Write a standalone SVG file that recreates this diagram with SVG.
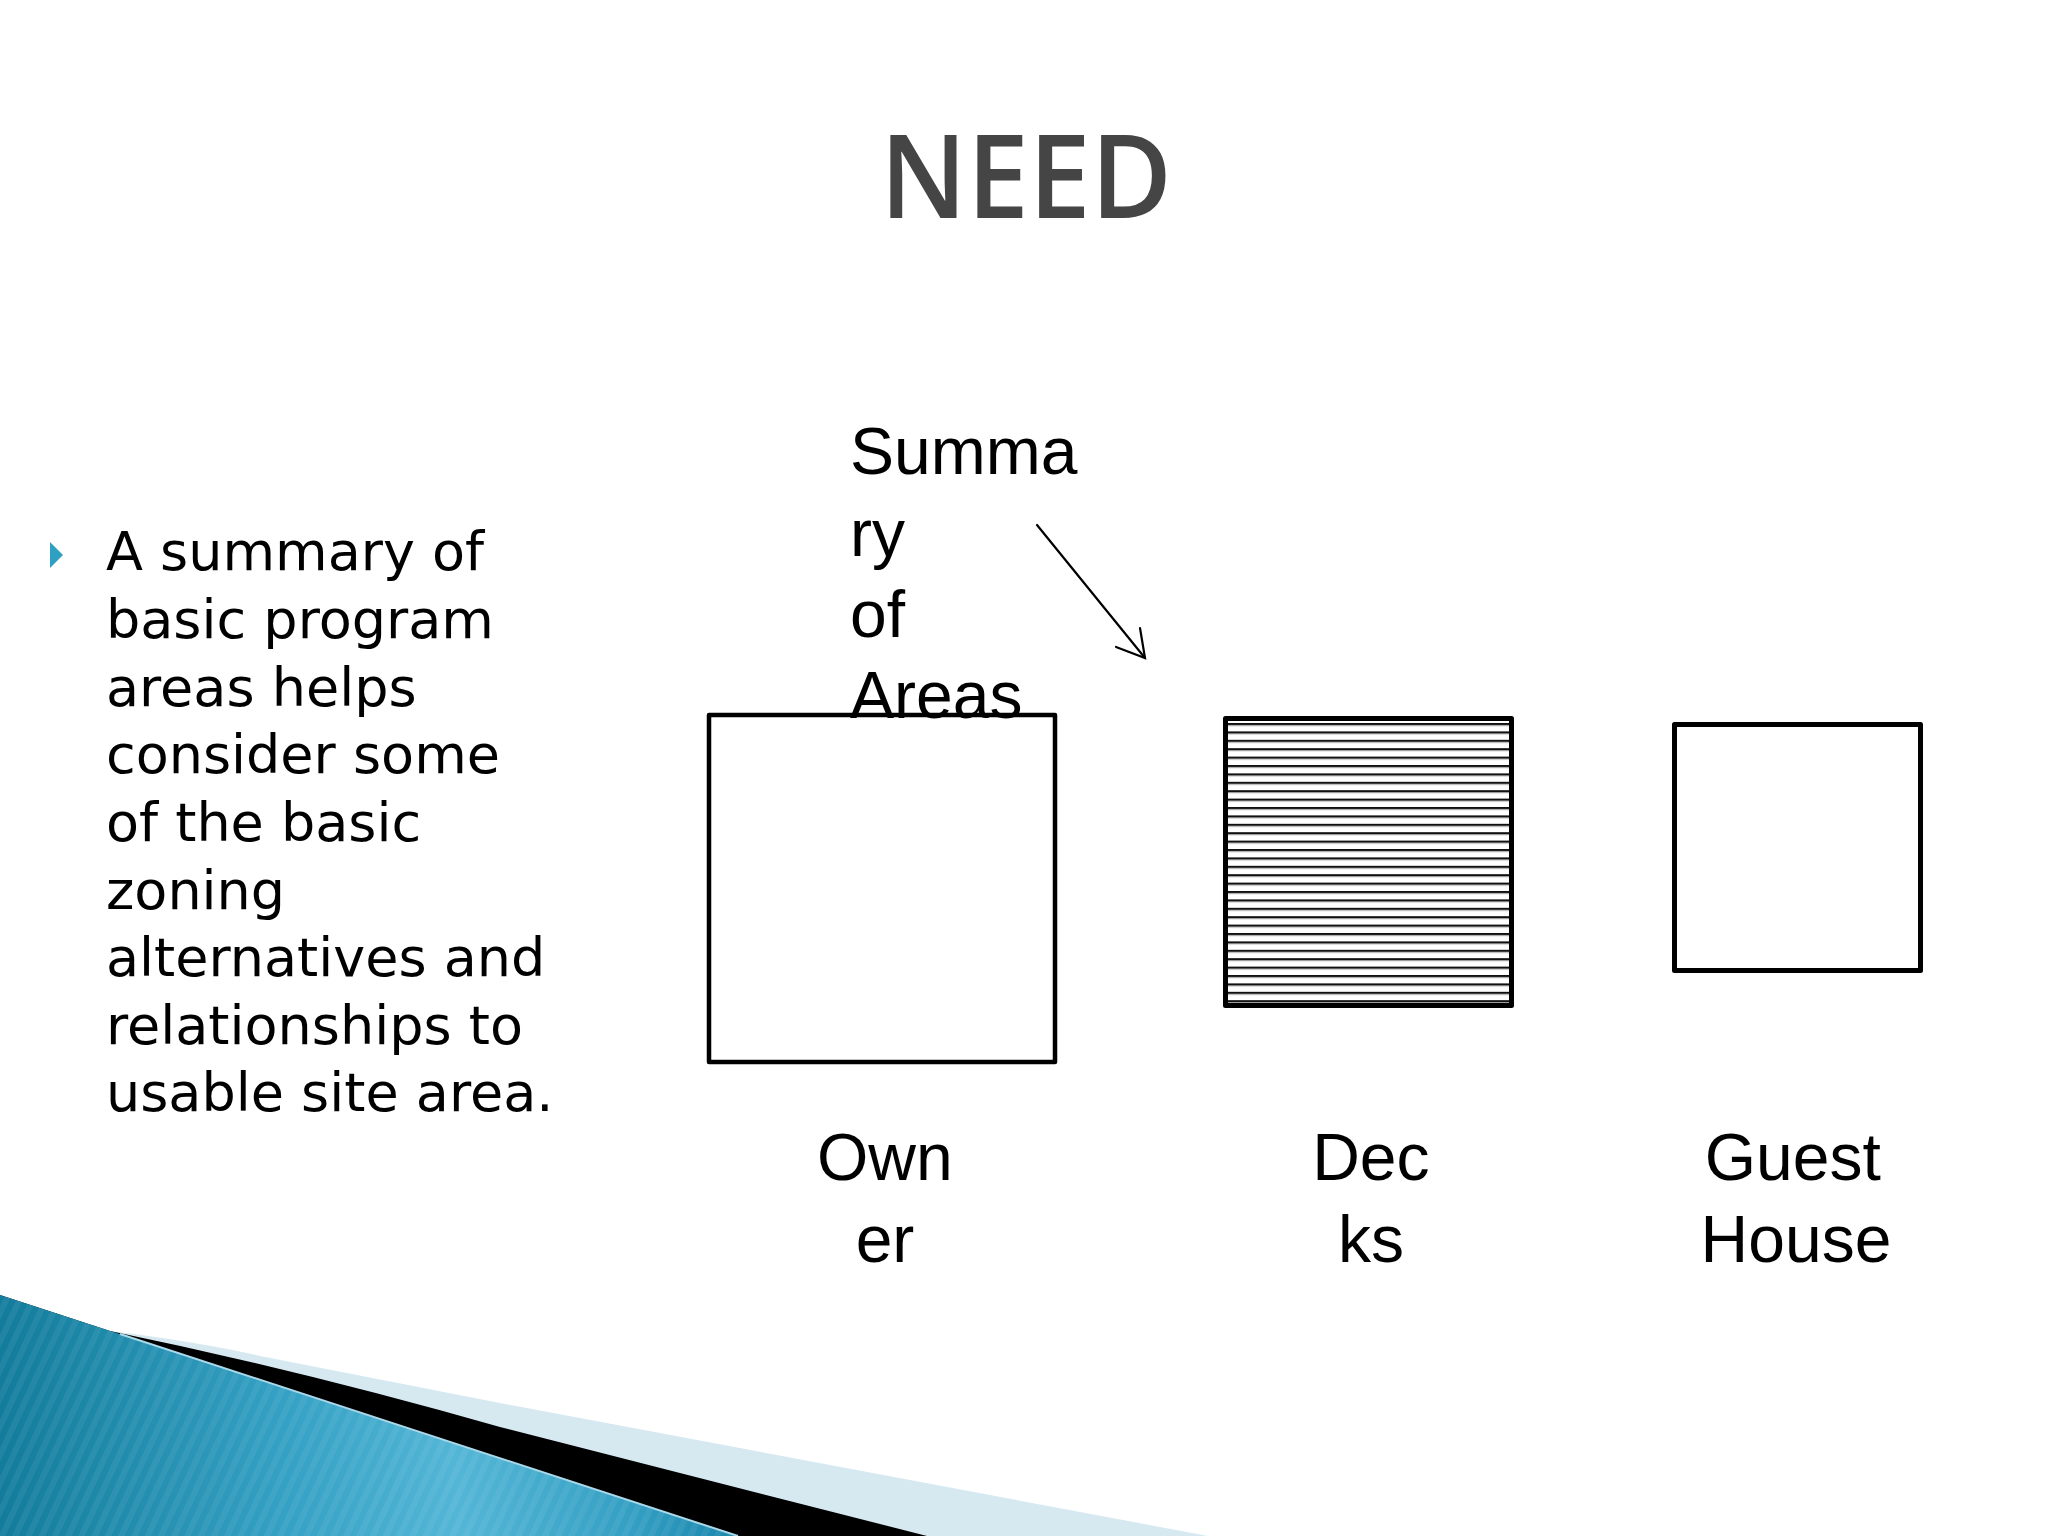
<svg xmlns="http://www.w3.org/2000/svg" width="2048" height="1536" viewBox="0 0 2048 1536">
  <style>
    .title { font-family: "Open Sans", "Liberation Sans", sans-serif; font-weight: 600; font-size: 116px; fill: #454545; }
    .body { font-family: "DejaVu Sans", "Liberation Sans", sans-serif; font-size: 54px; fill: #000; }
    .hand { font-family: "Liberation Sans", "DejaVu Sans", sans-serif; font-size: 66px; fill: #000; }
    .box { fill: #fff; stroke: #000; stroke-linejoin: round; }
    .conn { stroke: #000; stroke-width: 2.2; fill: none; stroke-linecap: round; }
  </style>
  <defs>
    <linearGradient id="blueGrad" x1="0" y1="0" x2="1" y2="0">
      <stop offset="0" stop-color="#137C9C"/>
      <stop offset="0.4" stop-color="#36A2C5"/>
      <stop offset="0.62" stop-color="#54B6D6"/>
      <stop offset="0.85" stop-color="#35A0C4"/>
      <stop offset="1" stop-color="#1A86AC"/>
    </linearGradient>
    <pattern id="stripes" patternUnits="userSpaceOnUse" width="12" height="12" patternTransform="rotate(25)">
      <rect width="6" height="12" fill="#ffffff" opacity="0.06"/>
    </pattern>
    <pattern id="hatch" patternUnits="userSpaceOnUse" x="0" y="723" width="20" height="8.4">
      <rect x="0" y="0" width="20" height="2" fill="#111"/>
      <rect x="0" y="2" width="20" height="1" fill="#999"/>
    </pattern>
  </defs>

  <rect width="2048" height="1536" fill="#ffffff"/>

  <!-- Bottom-left decoration -->
  <g id="decoration">
    <path d="M0 1295 L110 1331 Q200 1342 260 1356 L500 1403 L1208 1536 L0 1536 Z" fill="#D6E9F1"/>
    <path d="M0 1295 L110 1331 Q300 1370 500 1427 L927 1536 L0 1536 Z" fill="#000"/>
    <path d="M0 1295 L738 1536 L0 1536 Z" fill="url(#blueGrad)"/>
    <path d="M0 1295 L738 1536 L0 1536 Z" fill="url(#stripes)"/>
    <path d="M120 1334 L738 1536" stroke="#A9D9EA" stroke-width="2" fill="none"/>
  </g>

  <!-- Title -->
  <text class="title" x="880" y="218" textLength="292" lengthAdjust="spacingAndGlyphs">NEED</text>

  <!-- Bullet text -->
  <g id="bullet">
    <polygon points="50,542 63,555 50,568" fill="#2FA0C2"/>
    <text class="body">
      <tspan x="106" y="570">A summary of</tspan>
      <tspan x="106" y="638">basic program</tspan>
      <tspan x="106" y="705.5">areas helps</tspan>
      <tspan x="106" y="773">consider some</tspan>
      <tspan x="106" y="841">of the basic</tspan>
      <tspan x="106" y="908.5">zoning</tspan>
      <tspan x="106" y="976">alternatives and</tspan>
      <tspan x="106" y="1043.5">relationships to</tspan>
      <tspan x="106" y="1111">usable site area.</tspan>
    </text>
  </g>

  <!-- Owner node -->
  <g id="owner">
    <rect class="box" x="709" y="715" width="346" height="347" stroke-width="4.5"/>
    <text class="hand" text-anchor="middle">
      <tspan x="894" y="1180">Own</tspan>
      <tspan x="885" y="1262">er</tspan>
    </text>
  </g>

  <!-- Decks node -->
  <g id="decks">
    <rect x="1225.5" y="718.5" width="286" height="287" fill="url(#hatch)"/>
    <rect x="1225.5" y="718.5" width="286" height="287" fill="none" stroke="#000" stroke-width="5" stroke-linejoin="round"/>
    <text class="hand" text-anchor="middle">
      <tspan x="1380" y="1180">Dec</tspan>
      <tspan x="1371" y="1262">ks</tspan>
    </text>
  </g>

  <!-- Guest House node -->
  <g id="guest">
    <rect class="box" x="1674.5" y="724.5" width="246" height="246" stroke-width="5"/>
    <text class="hand" text-anchor="middle">
      <tspan x="1802" y="1180">Guest</tspan>
      <tspan x="1796" y="1262">House</tspan>
    </text>
  </g>

  <!-- Summary label -->
  <g id="summary">
    <text class="hand">
      <tspan x="850" y="474">Summa</tspan>
      <tspan x="850" y="556">ry</tspan>
      <tspan x="850" y="637">of</tspan>
      <tspan x="850" y="718">Areas</tspan>
    </text>
  </g>

  <!-- Connectors -->
  <g id="connectors">
    <path class="conn" d="M1037 525 L1145 658"/>
    <path class="conn" d="M1116 647 L1145 658 L1140 628"/>
  </g>
</svg>
